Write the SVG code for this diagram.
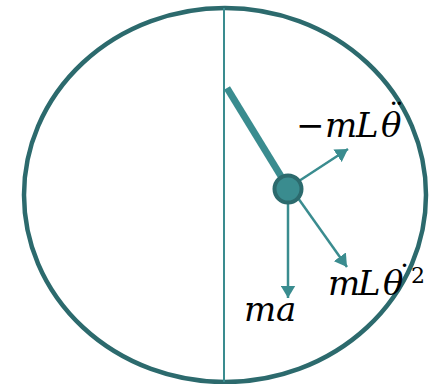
<svg xmlns="http://www.w3.org/2000/svg" width="431" height="384" viewBox="0 0 431 384">
<defs>
<style>
.lbl{font-family:"DejaVu Serif","Liberation Serif",serif;font-style:italic;font-size:34px;fill:#000}
.acc{font-style:normal;font-size:30px}
.sup{font-style:normal;font-size:22px}
.arr{stroke:#3a8c8f;stroke-width:2.5;fill:none}
</style>
<marker id="ah" markerWidth="5.5" markerHeight="6" refX="5" refY="3" orient="auto" markerUnits="strokeWidth"><path d="M0,0 L5,3 L0,6 Z" fill="#3a8c8f"/></marker>
</defs>
<rect width="431" height="384" fill="#fff"/>
<g id="frame">
<ellipse cx="225" cy="195" rx="201" ry="187" fill="none" stroke="#2c6a6d" stroke-width="4.5"/>
<line x1="224" y1="8" x2="224" y2="382" stroke="#3a8c8f" stroke-width="2"/>
</g>
<g id="rod"><line x1="227" y1="88" x2="287" y2="186" stroke="#3a8c8f" stroke-width="7"/></g>
<g id="connectors">
<line class="arr" x1="299" y1="181" x2="348" y2="149" marker-end="url(#ah)"/>
<line class="arr" x1="298" y1="198" x2="347" y2="267" marker-end="url(#ah)"/>
<line class="arr" x1="288" y1="200" x2="288" y2="298" marker-end="url(#ah)"/>
</g>
<g id="bob"><circle cx="288" cy="189" r="13.5" fill="#3a8c8f" stroke="#2c6a6d" stroke-width="4"/></g>
<g id="labels">
<text class="lbl" x="296 325 356 381" y="137">−mLθ<tspan class="acc" x="389" y="125">¨</tspan></text>
<text class="lbl" x="328 358 383" y="295">mLθ<tspan class="acc" x="397" y="287">˙</tspan><tspan class="sup" x="411" y="283">2</tspan></text>
<text class="lbl" x="244 276" y="321">ma</text>
</g>
</svg>
